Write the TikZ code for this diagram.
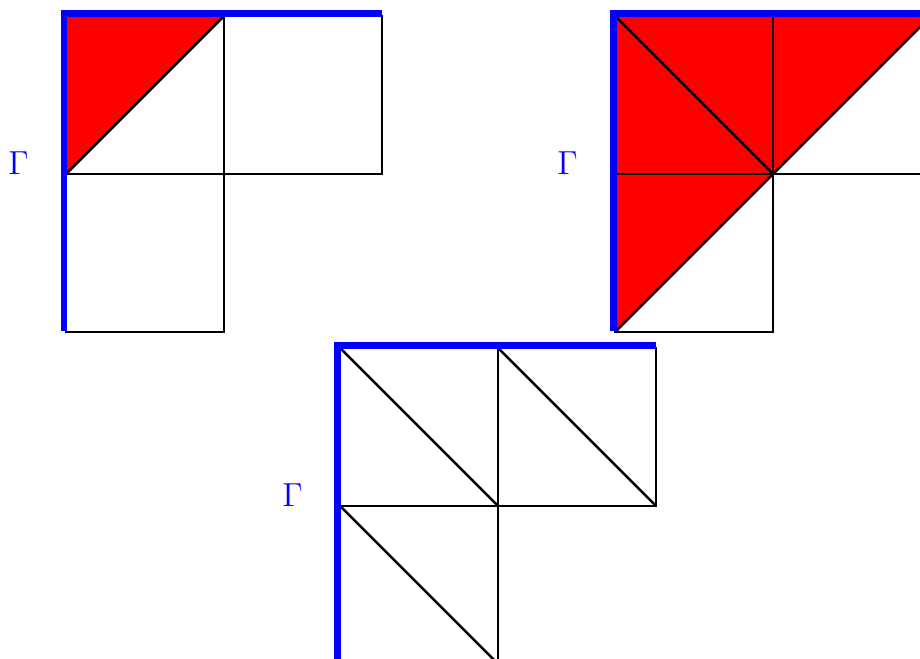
\documentclass[tikz,border=0pt]{standalone}
\begin{document}
\begin{tikzpicture}[
  x=2cm, y=2cm,
  mesh/.style={draw=black, line width=0.9pt, line join=miter},
  bdry/.style={draw=blue, line width=2.5pt, shift={(-0.013,0.013)}},
  marked/.style={fill=red},
  gamma/.style={text=blue, font=\large, inner sep=0pt}
]
\clip (-0.418,0.101) rectangle (5.405,-4.064);

% first mesh: one marked triangle
\begin{scope}[shift={(0,0)}]
\fill[marked] (0,0) -- (1,0) -- (0,-1) -- cycle;
\draw[mesh] (0,0) -- (2,0) -- (2,-1) -- (1,-1) -- (1,-2) -- (0,-2) -- cycle;
\draw[mesh] (1,0) -- (1,-1) -- (0,-1);
\draw[mesh] (0,-1) -- (1,0);
\draw[bdry] (0,-2.01) -- (0,0) -- (2.013,0);
\node[gamma] (gammaA) at (-0.3,-0.93) {$\Gamma$};
\end{scope}

% second mesh: four marked triangles
\begin{scope}[shift={(3.475,0)}]
\fill[marked] (0,0) -- (1,0) -- (1,-1) -- (0,-1) -- cycle;
\fill[marked] (1,0) -- (2,0) -- (1,-1) -- cycle;
\fill[marked] (0,-1) -- (1,-1) -- (0,-2) -- cycle;
\draw[mesh] (0,0) -- (2,0) -- (2,-1) -- (1,-1) -- (1,-2) -- (0,-2) -- cycle;
\draw[mesh] (1,0) -- (1,-1) -- (0,-1);
\draw[mesh] (0,0) -- (1,-1) -- (2,0);
\draw[mesh] (1,-1) -- (0,-2);
\draw[bdry] (0,-2.01) -- (0,0) -- (2.013,0);
\node[gamma] (gammaB) at (-0.3,-0.93) {$\Gamma$};
\end{scope}

% third mesh: no marked triangles
\begin{scope}[shift={(1.734,-2.101)}]
\draw[mesh] (0,0) -- (2,0) -- (2,-1) -- (1,-1) -- (1,-2) -- (0,-2) -- cycle;
\draw[mesh] (1,0) -- (1,-1) -- (0,-1);
\draw[mesh] (0,0) -- (1,-1);
\draw[mesh] (1,0) -- (2,-1);
\draw[mesh] (0,-1) -- (1,-2);
\draw[bdry] (0,-2.01) -- (0,0) -- (2.013,0);
\node[gamma] (gammaC) at (-0.3,-0.93) {$\Gamma$};
\end{scope}
\end{tikzpicture}
\end{document}
